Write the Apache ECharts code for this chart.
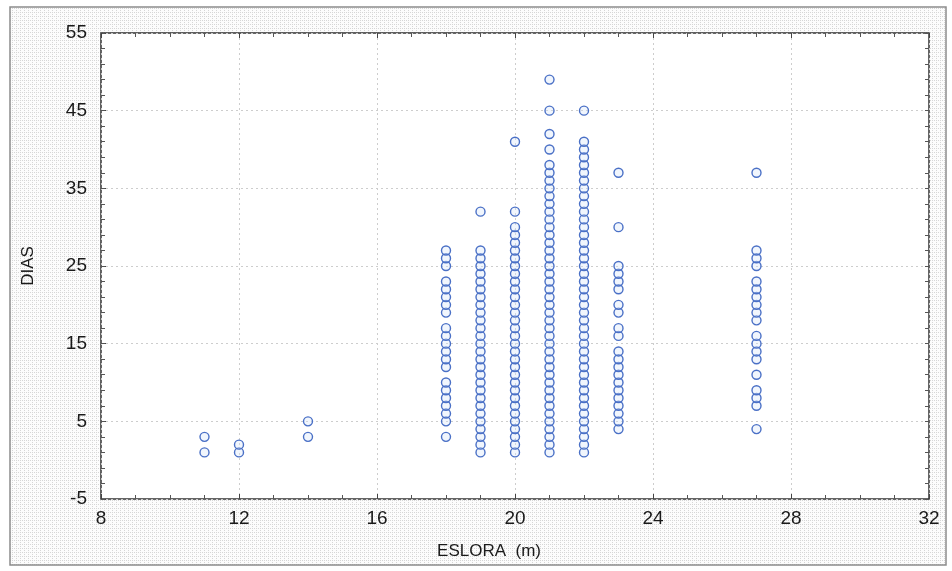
<!DOCTYPE html>
<html>
<head>
<meta charset="utf-8">
<script src="https://cdn.jsdelivr.net/npm/echarts@6/dist/echarts.min.js"></script>
<style>
html,body{margin:0;padding:0;background:#fff;}
#chart{width:952px;height:571px;}
</style>
</head>
<body>
<div id="chart"></div>
<script>
// ---- data (DIAS values observed at each ESLORA) ----
const eslora = [11, 12, 14, 18, 19, 20, 21, 22, 23, 27];
const dias11 = [1, 3];
const dias12 = [1, 2];
const dias14 = [3, 5];
const dias18 = [3, 5, 6, 7, 8, 9, 10, 12, 13, 14, 15, 16, 17, 19, 20, 21, 22, 23, 25, 26, 27];
const dias19 = [1, 2, 3, 4, 5, 6, 7, 8, 9, 10, 11, 12, 13, 14, 15, 16, 17, 18, 19, 20, 21, 22, 23, 24, 25, 26, 27, 32];
const dias20 = [1, 2, 3, 4, 5, 6, 7, 8, 9, 10, 11, 12, 13, 14, 15, 16, 17, 18, 19, 20, 21, 22, 23, 24, 25, 26, 27, 28, 29, 30, 32, 41];
const dias21 = [1, 2, 3, 4, 5, 6, 7, 8, 9, 10, 11, 12, 13, 14, 15, 16, 17, 18, 19, 20, 21, 22, 23, 24, 25, 26, 27, 28, 29, 30, 31, 32, 33, 34, 35, 36, 37, 38, 40, 42, 45, 49];
const dias22 = [1, 2, 3, 4, 5, 6, 7, 8, 9, 10, 11, 12, 13, 14, 15, 16, 17, 18, 19, 20, 21, 22, 23, 24, 25, 26, 27, 28, 29, 30, 31, 32, 33, 34, 35, 36, 37, 38, 39, 40, 41, 45];
const dias23 = [4, 5, 6, 7, 8, 9, 10, 11, 12, 13, 14, 16, 17, 19, 20, 22, 23, 24, 25, 30, 37];
const dias27 = [4, 7, 8, 9, 11, 13, 14, 15, 16, 18, 19, 20, 21, 22, 23, 25, 26, 27, 37];
const diasByEslora = [dias11, dias12, dias14, dias18, dias19, dias20, dias21, dias22, dias23, dias27];

// ---- axes ----
const xMin = 8, xMax = 32, xStep = 4;
const yMin = -5, yMax = 55;
const yTicks = [-5, 5, 15, 25, 35, 45, 55];
const yMinorTicks = [-5, -3, -1, 1, 3, 5, 7, 9, 11, 13, 15, 17, 19, 21, 23, 25, 27, 29, 31, 33, 35, 37, 39, 41, 43, 45, 47, 49, 51, 53, 55];
const xName = 'ESLORA  (m)';
const yName = 'DIAS';

// build point list
const points = [];
eslora.forEach((e, i) => diasByEslora[i].forEach(d => points.push([e, d])));

// dotted paper texture for the frame
const pat = document.createElement('canvas');
pat.width = 4; pat.height = 4;
const pc = pat.getContext('2d');
pc.fillStyle = '#fcfcfc'; pc.fillRect(0, 0, 4, 4);
pc.fillStyle = '#d6d6d6';
pc.fillRect(0, 0, 1, 1); pc.fillRect(2, 0, 1, 1); pc.fillRect(0, 2, 1, 1);

const FONT = "'Liberation Sans', Arial, sans-serif";
const chart = echarts.init(document.getElementById('chart'), null, {renderer: 'canvas'});

const common = {min: yMin, max: yMax, type: 'value'};
chart.setOption({
  animation: false,
  backgroundColor: '#ffffff',
  graphic: [{
    type: 'rect', z: -10,
    shape: {x: 10, y: 7, width: 936, height: 558},
    style: {fill: {image: pat, repeat: 'repeat'}, stroke: '#8c8c8c', lineWidth: 1.5}
  }],
  grid: {
    left: 101, right: 23, top: 33, bottom: 72,
    show: true, backgroundColor: '#ffffff', borderColor: '#333333', borderWidth: 1.5
  },
  xAxis: [{
    type: 'value', min: xMin, max: xMax, interval: xStep,
    position: 'bottom',
    name: xName, nameLocation: 'middle', nameGap: 44,
    nameTextStyle: {fontFamily: FONT, fontSize: 17, color: '#1a1a1a', padding: [0, 52, 0, 0]},
    axisLine: {show: false, onZero: false},
    axisTick: {show: true, inside: true, length: 5, lineStyle: {color: '#444'}},
    minorTick: {show: true, splitNumber: 4, length: 4, lineStyle: {color: '#555'}},
    axisLabel: {fontFamily: FONT, fontSize: 19, color: '#1a1a1a', margin: 10},
    splitLine: {show: true, lineStyle: {color: '#cdcdcd', type: [2, 3], width: 1}}
  }, {
    type: 'value', min: xMin, max: xMax, interval: xStep,
    position: 'top',
    axisLine: {show: false, onZero: false},
    axisTick: {show: true, inside: true, length: 5, lineStyle: {color: '#444'}},
    minorTick: {show: true, splitNumber: 4, length: 4, lineStyle: {color: '#555'}},
    axisLabel: {show: false},
    splitLine: {show: false}
  }],
  yAxis: [Object.assign({}, common, {
    position: 'left',
    name: yName, nameLocation: 'middle', nameGap: 64, nameRotate: 90,
    nameTextStyle: {fontFamily: FONT, fontSize: 17, color: '#1a1a1a'},
    axisLine: {show: false, onZero: false},
    axisTick: {show: true, inside: true, length: 5, customValues: yTicks, lineStyle: {color: '#444'}},
    axisLabel: {fontFamily: FONT, fontSize: 19, color: '#1a1a1a', margin: 14, customValues: yTicks},
    splitLine: {show: true, lineStyle: {color: '#cdcdcd', type: [2, 3], width: 1}}
  }), Object.assign({}, common, {
    position: 'left',
    axisLine: {show: false, onZero: false},
    axisTick: {show: true, inside: true, length: 4, customValues: yMinorTicks, lineStyle: {color: '#555'}},
    axisLabel: {show: false},
    splitLine: {show: false}
  }), Object.assign({}, common, {
    position: 'right',
    axisLine: {show: false, onZero: false},
    axisTick: {show: true, inside: true, length: 4, customValues: yMinorTicks, lineStyle: {color: '#555'}},
    axisLabel: {show: false},
    splitLine: {show: false}
  })],
  series: [{
    type: 'scatter',
    xAxisIndex: 0, yAxisIndex: 0,
    data: points,
    symbol: 'circle',
    symbolSize: 9,
    itemStyle: {color: 'rgba(215,228,250,0.35)', borderColor: '#4a70c6', borderWidth: 1.4, opacity: 1}
  }]
});
</script>
</body>
</html>
